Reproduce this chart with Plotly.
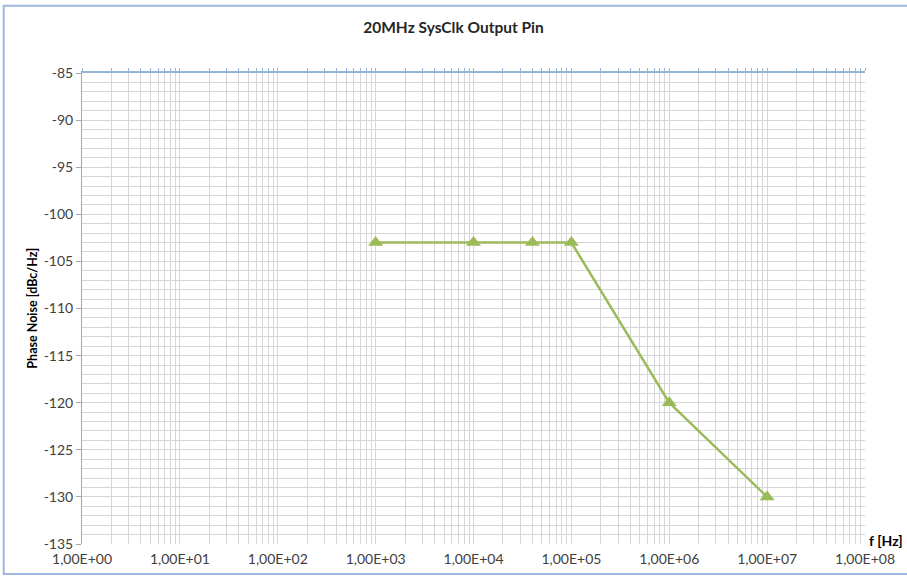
import plotly.graph_objects as go

# Data
freq_hz = [1e3, 1e4, 4e4, 1e5, 1e6, 1e7]
phase_noise = [-103, -103, -103, -103, -120, -130]
decade_vals = [1e0, 1e1, 1e2, 1e3, 1e4, 1e5, 1e6, 1e7, 1e8]
decade_labels = ["1,00E+00", "1,00E+01", "1,00E+02", "1,00E+03", "1,00E+04",
                 "1,00E+05", "1,00E+06", "1,00E+07", "1,00E+08"]
y_ticks = [-85, -90, -95, -100, -105, -110, -115, -120, -125, -130, -135]
y_labels = ["-85", "-90", "-95", "-100", "-105", "-110", "-115", "-120",
            "-125", "-130", "-135"]
title_text = "20MHz SysClk Output Pin"
y_title = "Phase Noise [dBc/Hz]"
x_title = "f [Hz]"

# all log grid positions 1..9 x 10^k
grid_vals = []
grid_text = []
for k in range(8):
    for m in range(1, 10):
        v = m * 10 ** k
        grid_vals.append(v)
        grid_text.append(decade_labels[k] if m == 1 else "")
grid_vals.append(decade_vals[-1])
grid_text.append(decade_labels[-1])

FONT = "Lato"
GREEN = "#9bbb59"

fig = go.Figure()
fig.add_trace(go.Scatter(
    x=freq_hz, y=phase_noise, mode="lines+markers",
    line=dict(color=GREEN, width=2.5),
    marker=dict(symbol="triangle-up", size=13, color=GREEN),
    showlegend=False, hoverinfo="x+y"))
# dummy trace to activate top axis
fig.add_trace(go.Scatter(x=[decade_vals[0], decade_vals[-1]], y=[-85, -85],
                         xaxis="x2", mode="lines",
                         line=dict(width=0), opacity=0, showlegend=False,
                         hoverinfo="skip"))

fig.update_layout(
    width=907, height=579,
    margin=dict(l=82, r=40, t=73, b=34),
    paper_bgcolor="white", plot_bgcolor="white",
    font=dict(family=FONT, size=13, color="#404040"),
    title=dict(text="<b>" + title_text + "</b>", x=0.5, xanchor="center",
               y=1 - 28 / 579, yanchor="middle",
               font=dict(family=FONT, size=15.5, color="#262626")),
    xaxis=dict(type="log", range=[0, 8], tickmode="array",
               tickvals=grid_vals, ticktext=grid_text,
               showgrid=True, gridcolor="#d6d6d6", gridwidth=1,
               ticks="", showline=False, zeroline=False,
               tickfont=dict(family=FONT, size=14, color="#404040"),
               ticklabelstandoff=5),
    xaxis2=dict(type="log", range=[0, 8], overlaying="x", side="top",
                tickmode="array", tickvals=grid_vals,
                showticklabels=False, showgrid=False,
                ticks="outside", ticklen=3, tickcolor="#95b3d7", tickwidth=1,
                showline=True, linecolor="#95b3d7", linewidth=2,
                zeroline=False),
    yaxis=dict(range=[-135, -85], tickmode="array",
               tickvals=y_ticks, ticktext=y_labels,
               showgrid=True, gridcolor="#d6d6d6", gridwidth=1,
               minor=dict(dtick=1, showgrid=True, gridcolor="#d6d6d6",
                          gridwidth=1),
               ticks="outside", ticklen=5, tickcolor="#a6a6a6",
               showline=True, linecolor="#a6a6a6", linewidth=1,
               zeroline=False,
               tickfont=dict(family=FONT, size=14, color="#404040")),
)

fig.add_annotation(text="<b>" + y_title + "</b>", xref="paper", yref="paper",
                   x=(32 - 82) / 785, y=0.5, textangle=-90, showarrow=False,
                   font=dict(family=FONT, size=12.5, color="#000000"),
                   xanchor="center", yanchor="middle")
fig.add_annotation(text="<b>" + x_title + "</b>", xref="paper", yref="paper",
                   x=(888 - 82) / 785, y=(545 - 541) / 472, showarrow=False,
                   font=dict(family=FONT, size=14, color="#000000"),
                   xanchor="center", yanchor="middle")

# outer chart frame
fig.add_shape(type="rect", xref="paper", yref="paper",
              x0=(3.5 - 82) / 785, x1=(912 - 82) / 785,
              y0=(545 - 575) / 472, y1=(545 - 5.5) / 472,
              line=dict(color="#9db7dd", width=2), layer="below")

fig.write_html("out.html", config={"displayModeBar": False},
               post_script="document.body.style.margin='0';"
                           "document.body.style.overflow='hidden';")
